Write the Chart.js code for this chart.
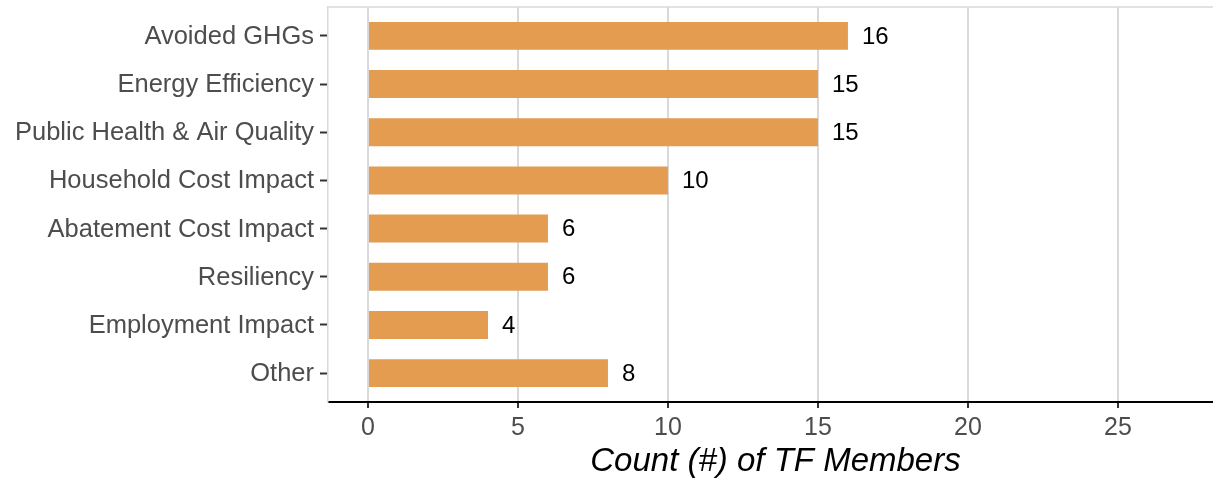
<!DOCTYPE html>
<html>
<head>
<meta charset="utf-8">
<script src="https://cdn.jsdelivr.net/npm/chart.js@4"></script>
<style>
  html, body { margin: 0; padding: 0; background: #fff; }
  #wrap { width: 1213px; height: 480px; }
</style>
</head>
<body>
<div id="wrap"><canvas id="chart" width="1213" height="480"></canvas></div>
<script>
const categories = [
  "Avoided GHGs",
  "Energy Efficiency",
  "Public Health & Air Quality",
  "Household Cost Impact",
  "Abatement Cost Impact",
  "Resiliency",
  "Employment Impact",
  "Other"
];
const counts = [16, 15, 15, 10, 6, 6, 4, 8];
const xTicks = [0, 5, 10, 15, 20, 25];
const xTitle = "Count (#) of TF Members";

const FONT = "'Liberation Sans', Arial, Helvetica, sans-serif";
const BAR = "#E39C50";
const GRID = "#d9d9d9";

// valeurs au bout des barres, bord haut du panneau, titre de l'axe x
const extras = {
  id: "extras",
  afterDatasetsDraw(chart) {
    const ctx = chart.ctx;
    const area = chart.chartArea;
    ctx.save();
    ctx.strokeStyle = GRID;
    ctx.lineWidth = 1.5;
    ctx.beginPath();
    ctx.moveTo(area.left, area.top);
    ctx.lineTo(area.right, area.top);
    ctx.stroke();

    ctx.fillStyle = "#000";
    ctx.font = "24px " + FONT;
    ctx.textAlign = "left";
    ctx.textBaseline = "middle";
    chart.getDatasetMeta(0).data.forEach((bar, i) => {
      ctx.fillText(String(counts[i]), bar.x + 14, bar.y + 1);
    });
    ctx.restore();
  },
  afterDraw(chart) {
    const ctx = chart.ctx;
    const area = chart.chartArea;
    ctx.save();
    ctx.fillStyle = "#000";
    ctx.font = "italic 33px " + FONT;
    ctx.textAlign = "center";
    ctx.textBaseline = "middle";
    ctx.fillText(xTitle, (area.left + area.right) / 2 + 5, 462);
    ctx.restore();
  }
};

new Chart(document.getElementById("chart"), {
  type: "bar",
  data: {
    datasets: [{
      data: counts.map((v, i) => ({ x: v, y: i })),
      backgroundColor: BAR,
      borderWidth: 0,
      barPercentage: 0.58,
      categoryPercentage: 1
    }]
  },
  options: {
    indexAxis: "y",
    responsive: false,
    animation: false,
    layout: { padding: { top: 7, right: 0, left: 0, bottom: 0 } },
    plugins: { legend: { display: false }, tooltip: { enabled: false } },
    scales: {
      x: {
        type: "linear",
        min: -1.333,
        max: 28.17,
        afterBuildTicks: (s) => { s.ticks = xTicks.map(v => ({ value: v })); },
        afterFit: (s) => { s.height = 78; s.paddingLeft = 0; s.paddingRight = 0; },
        grid: {
          color: GRID,
          lineWidth: 2,
          drawTicks: true,
          tickLength: 6,
          tickColor: "#333",
          tickWidth: 2
        },
        border: { color: "#000", width: 2 },
        ticks: {
          color: "#4d4d4d",
          font: { family: FONT, size: 25 },
          padding: 5
        }
      },
      y: {
        type: "linear",
        reverse: true,
        offset: false,
        min: -0.6,
        max: 7.6,
        afterBuildTicks: (s) => { s.ticks = categories.map((c, i) => ({ value: i })); },
        afterFit: (s) => { s.width = 328; s.paddingTop = 0; s.paddingBottom = 0; },
        grid: {
          offset: false,
          drawOnChartArea: false,
          drawTicks: true,
          tickLength: 8,
          tickColor: "#333",
          tickWidth: 2
        },
        border: { color: GRID, width: 1.5 },
        ticks: {
          color: "#4d4d4d",
          font: { family: FONT, size: 25.5 },
          padding: 6,
          labelOffset: 1,
          callback: (v) => categories[v]
        }
      }
    }
  },
  plugins: [extras]
});
</script>
</body>
</html>
